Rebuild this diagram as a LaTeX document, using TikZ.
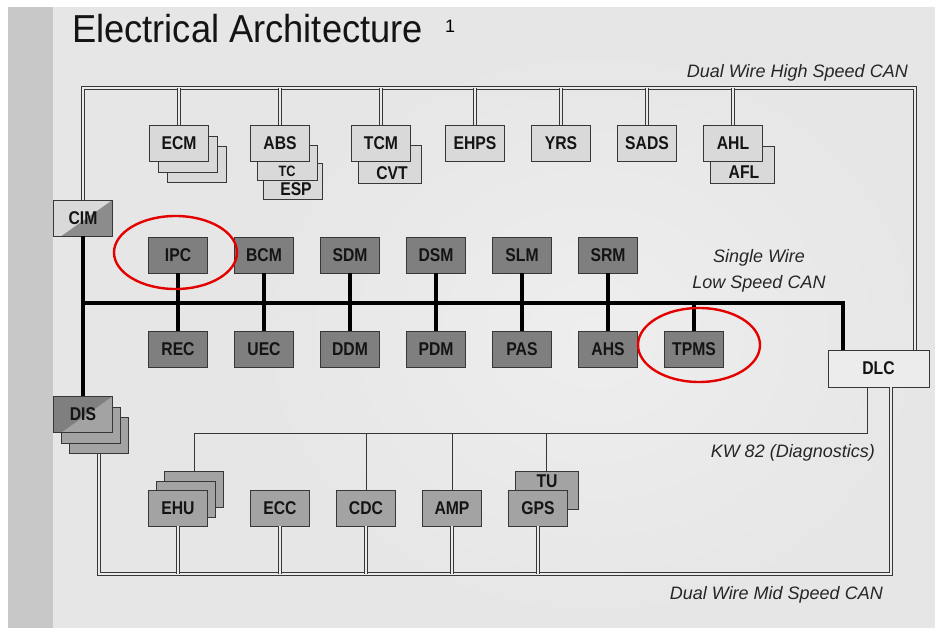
\documentclass[tikz,border=0pt]{standalone}
\usepackage{fontspec}
\setmainfont{Liberation Sans}
\newfontfamily\boxfont[FakeStretch=0.85]{Liberation Sans}
\newfontfamily\titlefont[FakeStretch=0.93]{Liberation Sans}
\definecolor{bg}{RGB}{230,230,230}
\definecolor{bglight}{RGB}{238,238,238}
\definecolor{wirein}{RGB}{234,234,234}
\definecolor{strip}{RGB}{200,200,200}
\definecolor{edge}{RGB}{55,55,55}
\definecolor{clight}{RGB}{217,217,217}
\definecolor{cdark}{RGB}{127,127,127}
\definecolor{cmid}{RGB}{163,163,163}
\definecolor{dlcfill}{RGB}{236,236,236}
\begin{document}
\begin{tikzpicture}[x=1pt,y=-1pt,
  mod/.style={draw=edge, line width=0.9pt, inner sep=0pt, minimum width=59pt, minimum height=36pt,
    font=\boxfont\bfseries\fontsize{18.5}{18.5}\selectfont, text=black!92},
  hsbox/.style={mod, fill=clight},
  lsbox/.style={mod, fill=cdark},
  msbox/.style={mod, fill=cmid},
  dbl/.style={draw=edge, line width=0.75pt, double=wirein, double distance=2.1pt},
  lsbus/.style={draw=black, line width=3.8pt},
  kwline/.style={draw=edge, line width=1pt},
  lab/.style={font=\itshape\fontsize{18}{18}\selectfont, inner sep=0pt, text=black!85},
  redring/.style={draw=red!90!black, line width=2.4pt},
  btext/.style={inner sep=0pt, font=\boxfont\bfseries\fontsize{18.5}{18.5}\selectfont, text=black!92}
]
\useasboundingbox (0,0) rectangle (935,628);
% background
\fill[white] (0,0) rectangle (935,628);
\fill[bg] (8,7) rectangle (935,628);
\shade[inner color=bglight, outer color=bg] (250,40) rectangle (935,628);
\fill[strip] (8,7) rectangle (53,628);

% title
\node[anchor=base west, inner sep=0pt, font=\titlefont\fontsize{39}{39}\selectfont, text=black!92] (title) at (72,43) {Electrical Architecture};
\node[anchor=base west, inner sep=0pt, font=\fontsize{18}{18}\selectfont] (pagenum) at (445,33) {1};

% ---- high speed row ----
\node[hsbox] (ecm3) at (197,164.5) {};
\node[hsbox] (ecm2) at (188,154.5) {};
\node[hsbox] (ecm) at (179,143.5) {ECM};
\node[hsbox, minimum height=36pt] (esp) at (293,181) {};
\node[hsbox, minimum height=35pt, minimum width=60pt] (tc) at (287,162.5) {};
\node[hsbox] (abs) at (280,143.5) {ABS};
\node[btext] (espl) at (296,189) {ESP};
\node[btext, font=\boxfont\bfseries\fontsize{15}{15}\selectfont] (tcl) at (287,171.5) {TC};
\node[hsbox, minimum width=63pt, minimum height=38pt] (cvt) at (389.5,164) {};
\node[hsbox] (tcm) at (381,143.5) {TCM};
\node[btext] (cvtl) at (392,173) {CVT};
\node[hsbox] (ehps) at (475,143.5) {EHPS};
\node[hsbox] (yrs) at (561,143.5) {YRS};
\node[hsbox] (sads) at (647,143.5) {SADS};
\node[hsbox, minimum width=64pt, minimum height=37pt] (afl) at (742,164.5) {};
\node[hsbox] (ahl) at (733,143.5) {AHL};
\node[btext] (afll) at (744,172.5) {AFL};

% ---- CIM / DIS ----
\node[mod, fill=clight, path picture={\fill[cdark!90!white] ([xshift=8pt]path picture bounding box.south west) -- (path picture bounding box.north east) -- (path picture bounding box.south east) -- cycle;}] (cim) at (83,218) {CIM};
\node[msbox] (dis3) at (99,435.5) {};
\node[msbox] (dis2) at (91,425) {};
\node[mod, fill=cdark, path picture={\fill[cmid] ([xshift=8pt]path picture bounding box.south west) -- (path picture bounding box.north east) -- (path picture bounding box.south east) -- cycle;}] (dis) at (83,414.5) {DIS};

% ---- low speed rows ----
\node[lsbox] (ipc) at (178,255) {IPC};
\node[lsbox] (bcm) at (264,255) {BCM};
\node[lsbox] (sdm) at (350,255) {SDM};
\node[lsbox] (dsm) at (436,255) {DSM};
\node[lsbox] (slm) at (522,255) {SLM};
\node[lsbox] (srm) at (608,255) {SRM};
\node[lsbox] (rec) at (178,349) {REC};
\node[lsbox] (uec) at (264,349) {UEC};
\node[lsbox] (ddm) at (350,349) {DDM};
\node[lsbox] (pdm) at (436,349) {PDM};
\node[lsbox] (pas) at (522,349) {PAS};
\node[lsbox] (ahs) at (608,349) {AHS};
\node[lsbox] (tpms) at (694,349) {TPMS};

% ---- DLC ----
\node[mod, fill=dlcfill, minimum width=101pt, minimum height=37pt] (dlc) at (878.5,368.5) {DLC};

% ---- mid speed row ----
\node[msbox] (ehu3) at (194,489.5) {};
\node[msbox] (ehu2) at (186,499) {};
\node[msbox] (ehu) at (178,508) {EHU};
\node[msbox] (ecc) at (280,508) {ECC};
\node[msbox] (cdc) at (366,508) {CDC};
\node[msbox] (amp) at (452,508) {AMP};
\node[msbox, minimum width=63pt, minimum height=38pt] (tu) at (546.5,490) {};
\node[msbox] (gps) at (538,508) {GPS};
\node[btext] (tul) at (547,481.5) {TU};

% ---- high speed bus ----
\coordinate (hsL) at (84,88);
\draw[dbl] (cim.north) -- (cim.north |- hsL) -| ([xshift=-14.5pt]dlc.north east);
\foreach \n in {ecm,abs,tcm,ehps,yrs,sads,ahl}
  \draw[dbl] (\n.north) -- (\n.north |- hsL);

% ---- low speed bus ----
\coordinate (lsL) at (84,303);
\draw[lsbus] (cim.south) -- (dis.north);
\draw[lsbus] (cim.south |- lsL) -| ([xshift=-35.5pt]dlc.north);
\draw[lsbus] (ipc.south) -- (rec.north);
\draw[lsbus] (bcm.south) -- (uec.north);
\draw[lsbus] (sdm.south) -- (ddm.north);
\draw[lsbus] (dsm.south) -- (pdm.north);
\draw[lsbus] (slm.south) -- (pas.north);
\draw[lsbus] (srm.south) -- (ahs.north);
\draw[lsbus] (tpms.north) -- (tpms.north |- lsL);

% ---- mid speed bus ----
\coordinate (msL) at (100,574);
\draw[dbl] (dis3.south) -- (dis3.south |- msL) -| ([xshift=12.5pt]dlc.south);
\foreach \n in {ehu,ecc,cdc,amp,gps}
  \draw[dbl] (\n.south) -- (\n.south |- msL);

% ---- KW 82 ----
\coordinate (kwL) at (194,433);
\draw[kwline] ([xshift=-11.5pt]dlc.south) |- (kwL) -- (ehu3.north);
\foreach \n in {cdc,amp,tu}
  \draw[kwline] (\n.north) -- (\n.north |- kwL);

% ---- red marks ----
\draw[redring] (175.5,252.5) ellipse [x radius=61.5pt, y radius=36.5pt];
\draw[redring] (699,345) ellipse [x radius=61pt, y radius=37pt];

% ---- labels ----
\node[lab, anchor=base east] (hslab) at (908,78) {Dual Wire High Speed CAN};
\node[lab, anchor=base] (lslab1) at (759,262.5) {Single Wire};
\node[lab, anchor=base] (lslab2) at (759,288.5) {Low Speed CAN};
\node[lab, anchor=base east] (kwlab) at (875,457.5) {KW 82 (Diagnostics)};
\node[lab, anchor=base east] (mslab) at (883,599.5) {Dual Wire Mid Speed CAN};
\end{tikzpicture}
\end{document}
